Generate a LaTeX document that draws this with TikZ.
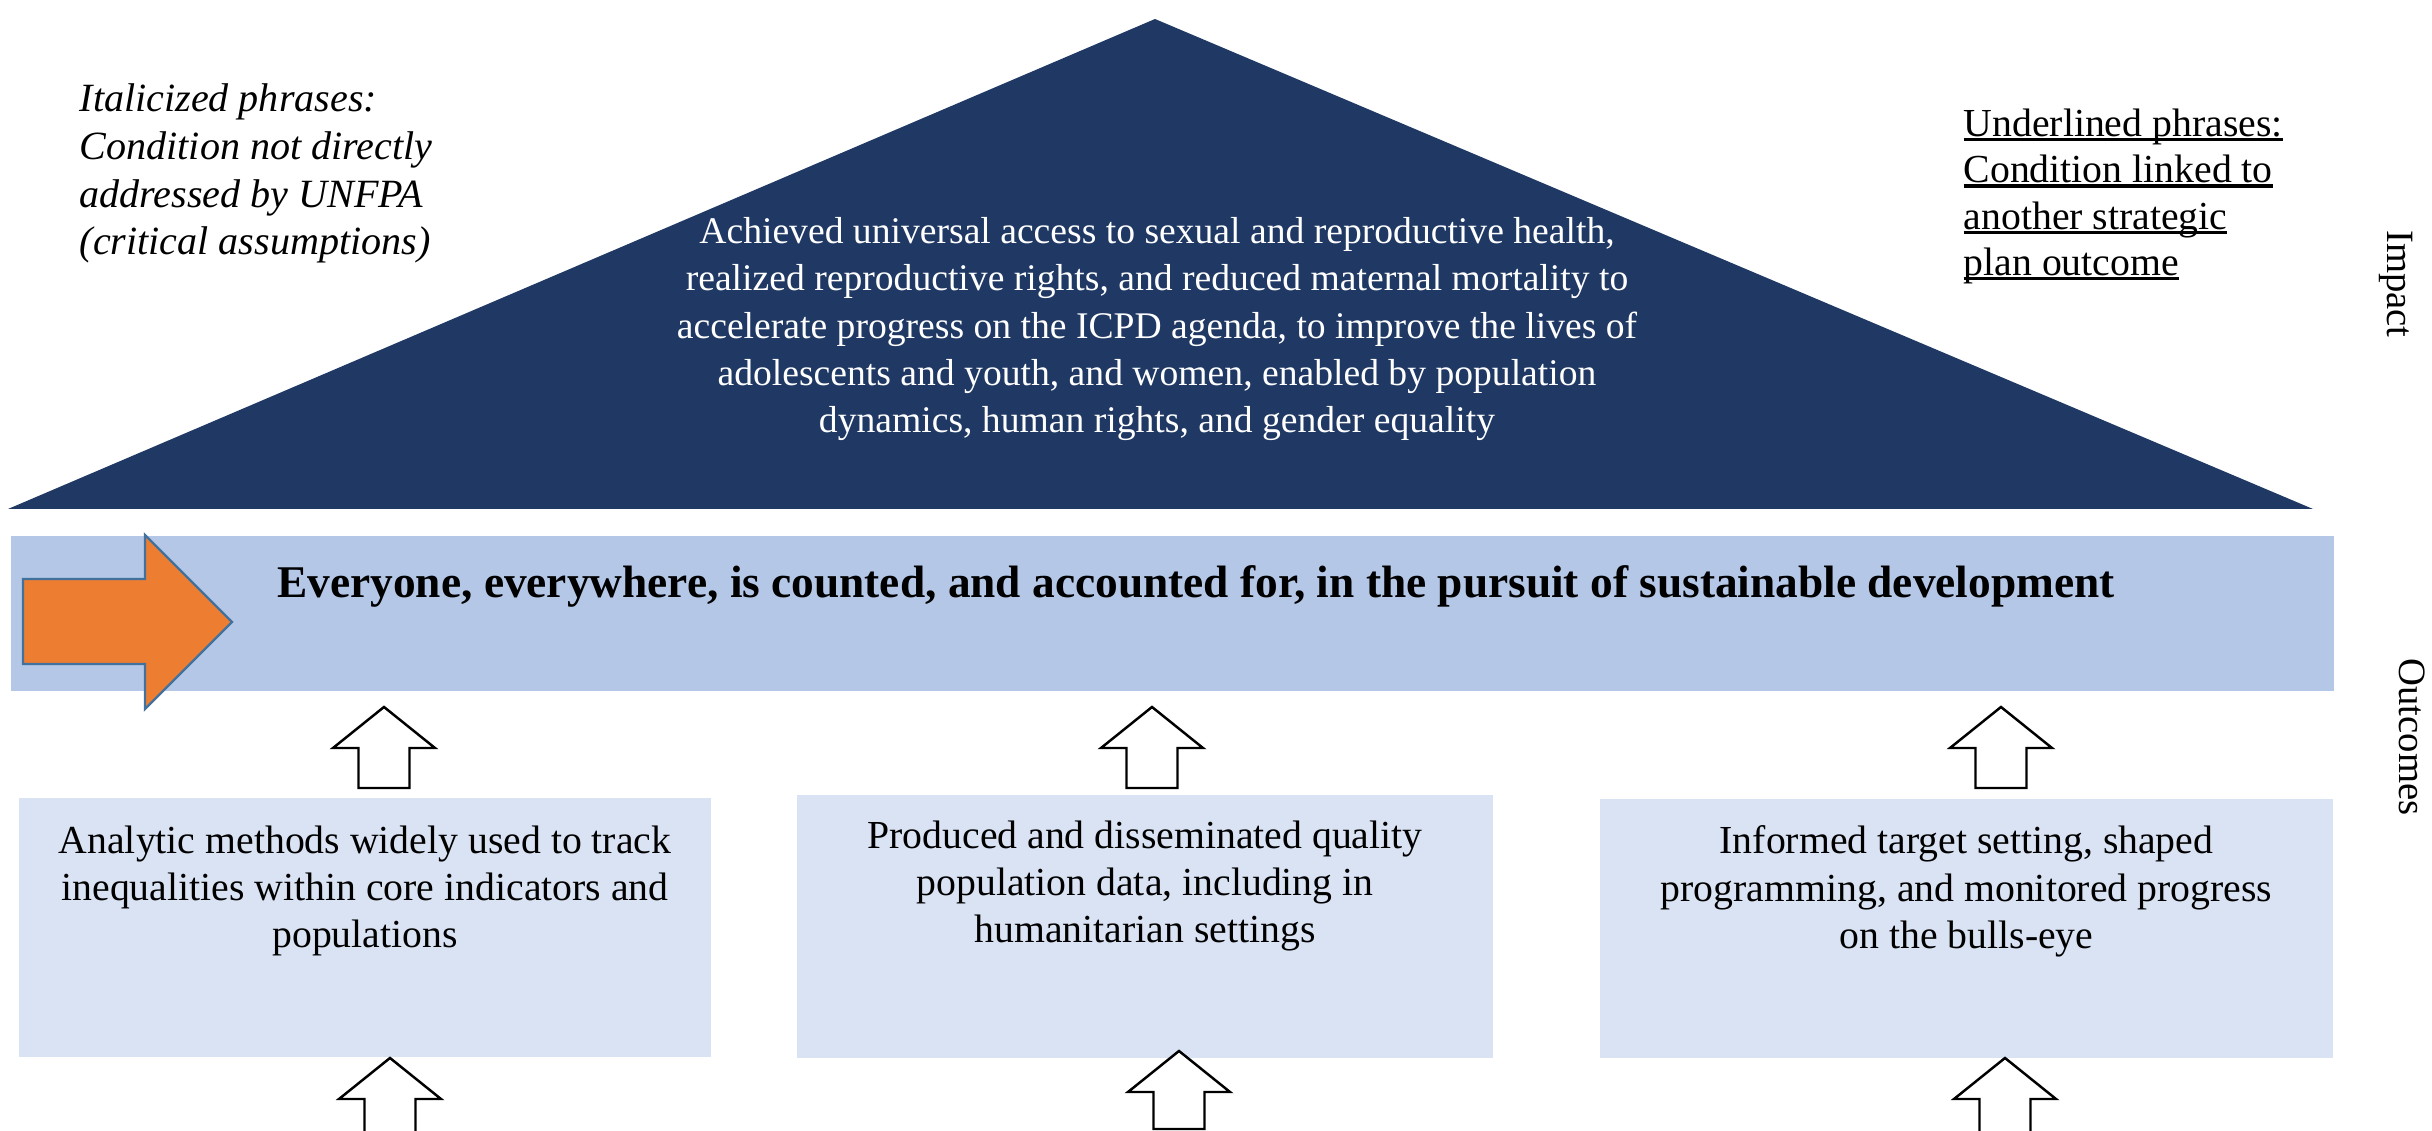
\documentclass[tikz,border=0pt]{standalone}
\usepackage{fontspec}
\setmainfont{Liberation Serif}
\usetikzlibrary{positioning}
\definecolor{navy}{HTML}{1F3864}
\definecolor{bandblue}{HTML}{B4C7E7}
\definecolor{boxblue}{HTML}{DAE3F3}
\definecolor{orangefill}{HTML}{ED7D31}
\definecolor{orangeline}{HTML}{41719C}

\newsavebox{\ulbox}
\newcommand{\ulphrase}[1]{\sbox{\ulbox}{#1}\rlap{\rule[-1.4pt]{\wd\ulbox}{1pt}}\usebox{\ulbox}}

\tikzset{
  txt/.style={inner sep=0pt, font=\fontsize{11.3}{13.4}\selectfont},
  outbox/.style={fill=boxblue, inner sep=0pt, minimum height=2.59cm},
  blockarrow/.style={draw=black, fill=white, line width=0.7pt, line join=miter}
}

% x of the shaft, y of the tip, y of the shaft end
\newcommand{\upblock}[3]{%
  \draw[blockarrow] (#1,#2) -- (#1+51,#2+41) -- (#1+25.5,#2+41) -- (#1+25.5,#3)
    -- (#1-25.5,#3) -- (#1-25.5,#2+41) -- (#1-51,#2+41) -- cycle;}

\begin{document}
\begin{tikzpicture}[x=0.01cm, y=-0.01cm]
				\useasboundingbox (0,0) rectangle (2432,1131);
				\clip (0,0) rectangle (2432,1131);

				\fill [navy] (8,509) -- (1155,19) -- (2313,509) -- cycle;
				\node [txt, font=\fontsize{10.7}{13.4}\selectfont, text=white, align=center, anchor=north] (impacttext) at (1157,217)
					{Achieved universal access to sexual and reproductive health,\\
					 realized reproductive rights, and reduced maternal mortality to\\
					 accelerate progress on the ICPD agenda, to improve the lives of\\
					 adolescents and youth, and women, enabled by population\\
					 dynamics, human rights, and gender equality};

				\node [txt, font=\fontsize{11.4}{13.6}\selectfont\itshape, align=left, anchor=north west] (italnote) at (79,83)
					{Italicized phrases:\\ Condition not directly\\ addressed by UNFPA\\ (critical assumptions)};
				\node [txt, font=\fontsize{11.3}{13.2}\selectfont, align=left, anchor=north west] (ulnote) at (1963,108)
					{\ulphrase{Underlined phrases:}\\ \ulphrase{Condition linked to}\\ \ulphrase{another strategic}\\ \ulphrase{plan outcome}};

				\node [txt, font=\fontsize{11}{13}\selectfont, rotate=-90] (impact) at (2396,284) {Impact};
				\node [txt, font=\fontsize{11}{13}\selectfont, rotate=-90] (outcomes) at (2412,737) {Outcomes};

				\node [fill=bandblue, inner sep=0pt, minimum width=23.21cm, minimum height=1.55cm] (band) at (1172.5,613.5) {};
				\draw [fill=orangefill, draw=orangeline, line width=0.7pt, line join=miter]
					(23,579) -- (145,579) -- (145,535) -- (232,622) -- (145,709) -- (145,664) -- (23,664) -- cycle;
				\node [inner sep=0pt, font=\fontsize{12.9}{15}\selectfont\bfseries] (bandtext) at (1196,586)
					{Everyone, everywhere, is counted, and accounted for, in the pursuit of sustainable development};

				\node [outbox, minimum width=6.92cm] (b1) at (365,927.5) {};
				\node [outbox, minimum width=6.96cm, minimum height=2.63cm] (b2) at (1145,926.5) {};
				\node [outbox, minimum width=7.33cm] (b3) at (1966.5,928.5) {};

				\node [txt, align=center, below=2.8mm of b1.north] (t1)
					{Analytic methods widely used to track\\ inequalities within core indicators and\\ populations};
				\node [txt, align=center, below=2.6mm of b2.north] (t2)
					{Produced and disseminated quality\\ population data, including in\\ humanitarian settings};
				\node [txt, align=center, below=2.7mm of b3.north] (t3)
					{Informed target setting, shaped\\ programming, and monitored progress\\ on the bulls-eye};

				\upblock{384}{707}{788}
				\upblock{1152}{707}{788}
				\upblock{2001}{707}{788}

				\upblock{390}{1058}{1145}
				\upblock{1179}{1051}{1129}
				\upblock{2005}{1058}{1145}

\end{tikzpicture}
\end{document}
